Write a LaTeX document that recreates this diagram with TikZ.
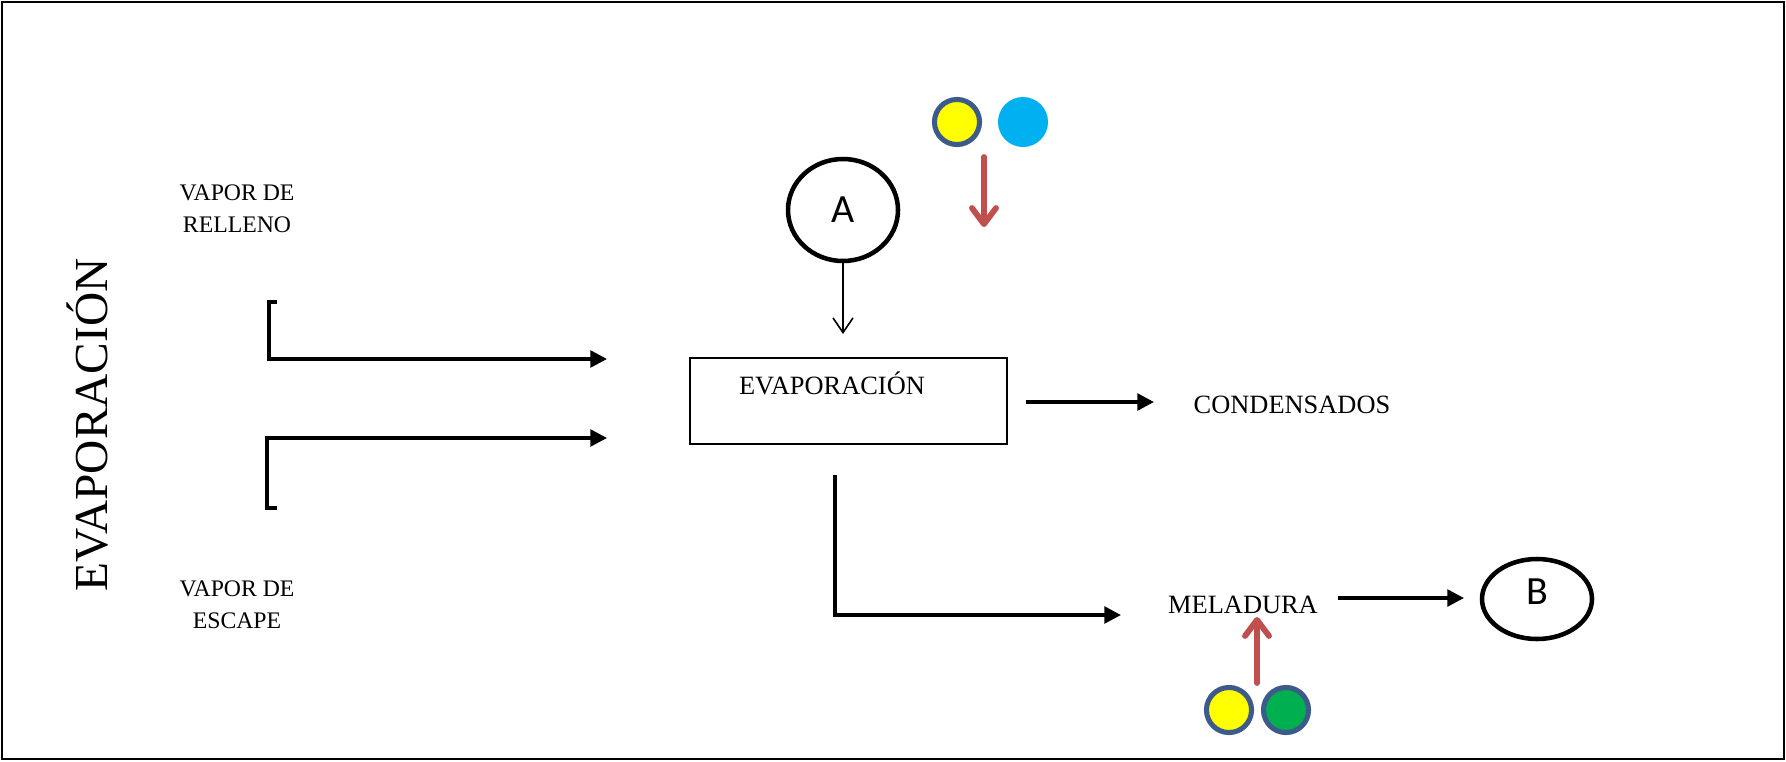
\documentclass[tikz,border=0pt]{standalone}
\usepackage{fontspec}
\setmainfont{Liberation Serif}
\newfontfamily\calib{Carlito}
\usetikzlibrary{arrows.meta,shapes.geometric}
\definecolor{redarr}{HTML}{C0504D}
\definecolor{ringblue}{HTML}{3C5A8A}
\definecolor{dotyellow}{HTML}{FFFF00}
\definecolor{dotcyan}{HTML}{00B0F0}
\definecolor{dotgreen}{HTML}{00B050}
\tikzset{
  flow/.style={line width=2.6pt, -{Triangle[length=12.5pt,width=12.5pt]}},
  openarrow/.style={line width=1.2pt, -{Straight Barb[length=11pt,width=15pt]}},
  redarrow/.style={line width=4.4pt, redarr, line cap=round, -{Straight Barb[length=12pt,width=18pt,line cap=round,line join=round]}},
  lbl/.style={font=\fontsize{19.8}{24}\selectfont, inner sep=0pt},
  vlbl/.style={font=\fontsize{17.8}{24}\selectfont, align=center, inner sep=0pt},
  circnode/.style={ellipse, draw, line width=3.4pt, inner sep=0pt, font=\calib\fontsize{30}{36}\selectfont},
  ringdot/.style={circle, draw=ringblue, line width=3.8pt, minimum size=33.8pt, inner sep=0pt},
  plaindot/.style={circle, minimum size=37.5pt, inner sep=0pt},
}
\begin{document}
\begin{tikzpicture}[x=0.75pt, y=-0.75pt]
\useasboundingbox (0,0) rectangle (1786,761);
\draw[line width=1.5pt] (2,2) rectangle (1784,759);

% title
\node[rotate=90, font=\fontsize{35.5}{40}\selectfont, inner sep=0pt] (title) at (88,425) {EVAPORACIÓN};

% side labels
\node[vlbl] (relleno) at (237,209) {VAPOR DE\\RELLENO};
\node[vlbl] (escape) at (237,605) {VAPOR DE\\ESCAPE};

% main box
\node[draw, line width=1.2pt, minimum width=237.75pt, minimum height=64.5pt, inner sep=0pt] (box) at (848.5,401) {};
\node[lbl, anchor=base] (boxtext) at (832,394) {EVAPORACIÓN};

% circle A
\node[circnode, minimum width=82.5pt, minimum height=76.5pt] (A) at (843,210) {A};
\coordinate (atip) at (843,334);
\draw[openarrow] (A.south) -- (atip);

% inlet brackets
\coordinate (r0) at (277,302);
\coordinate (r1) at (269,302);
\coordinate (r2) at (269,359);
\coordinate (r3) at (607,359);
\draw[flow] (r0) -- (r1) -- (r2) -- (r3);
\coordinate (e0) at (277,508);
\coordinate (e1) at (267,508);
\coordinate (e2) at (267,438);
\coordinate (e3) at (607,438);
\draw[flow] (e0) -- (e1) -- (e2) -- (e3);

% condensados
\coordinate (c0) at (1026,402);
\coordinate (c1) at (1154,402);
\draw[flow] (c0) -- (c1);
\node[lbl, anchor=base] (cond) at (1292,413) {CONDENSADOS};

% meladura
\coordinate (m0) at (835,475);
\coordinate (m1) at (835,615);
\coordinate (m2) at (1121,615);
\draw[flow] (m0) -- (m1) -- (m2);
\node[lbl, anchor=base] (mel) at (1243,613) {MELADURA};

% circle B
\node[circnode, minimum width=82.5pt, minimum height=60pt] (B) at (1537,599) {};
\node[font=\calib\fontsize{30}{36}\selectfont, anchor=base, inner sep=0pt] (Btext) at (1537.5,604) {B};
\coordinate (b0) at (1338,598);
\coordinate (b1) at (1464,598);
\draw[flow] (b0) -- (b1);

% top dots and red arrow
\node[ringdot, fill=dotyellow] (ty) at (957,122) {};
\node[plaindot, fill=dotcyan] (tc) at (1023,122) {};
\coordinate (ra0) at (984,157);
\coordinate (ra1) at (984,227);
\draw[redarrow] (ra0) -- (ra1);

% bottom dots and red arrow
\node[ringdot, fill=dotyellow] (by) at (1229,710) {};
\node[ringdot, fill=dotgreen] (bg) at (1286,710) {};
\coordinate (rb0) at (1257,683);
\coordinate (rb1) at (1257,617);
\draw[redarrow] (rb0) -- (rb1);
\end{tikzpicture}
\end{document}
